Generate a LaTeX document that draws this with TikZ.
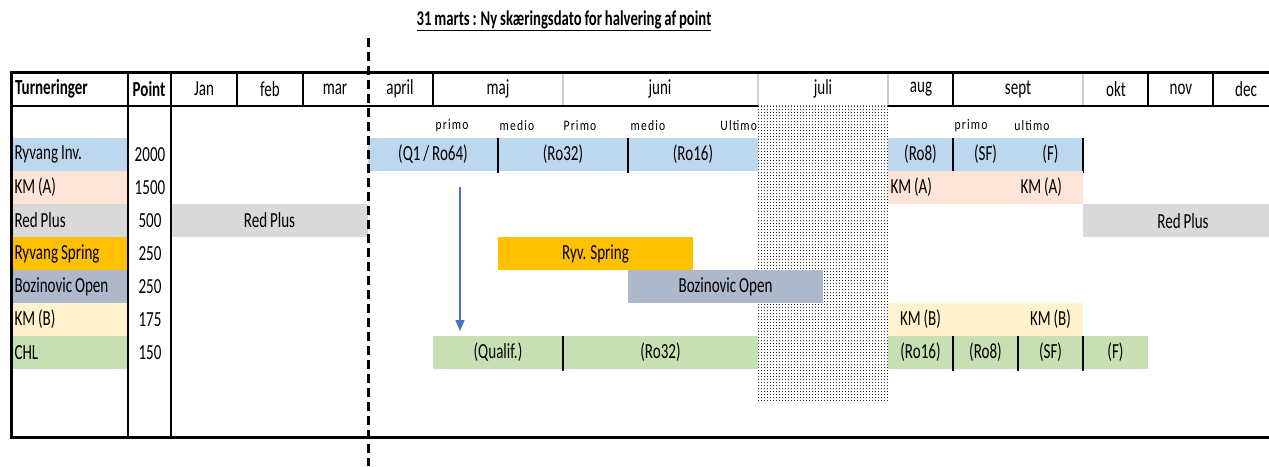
\documentclass[tikz,border=0pt]{standalone}
\usepackage{fontspec}
\setmainfont{Carlito}[FakeStretch=0.7,WordSpace=0.85]
\newfontfamily\subfont{Carlito}[FakeStretch=0.8,LetterSpace=8]
\usetikzlibrary{patterns.meta,arrows.meta}
\definecolor{cblue}{HTML}{BDD7EE}
\definecolor{cpeach}{HTML}{FCE4D6}
\definecolor{cgray}{HTML}{D9D9D9}
\definecolor{corange}{HTML}{FFC000}
\definecolor{cboz}{HTML}{ADB9CA}
\definecolor{cyel}{HTML}{FFF2CC}
\definecolor{cgreen}{HTML}{C6E0B4}
\definecolor{carrow}{HTML}{4472C4}
\definecolor{csep}{HTML}{D0D0D0}
\tikzdeclarepattern{name=julydots,type=uncolored,
  bounding box={(0pt,0pt) and (3.4pt,3.4pt)},tile size={(3.4pt,3.4pt)},
  code={\fill (1.7pt,1.7pt) circle (0.58pt);}}
% name, style, x1, y1, x2, y2, text
\newcommand\cellc[7]{\node[cellbox,#2,minimum width={(#5-#3)*1pt},minimum height={(#6-#4)*1pt}] (#1) at ({(#3+#5)/2},{(#4+#6)/2}) {#7};}
\newcommand\celll[7]{\node[cellbox,#2,minimum width={(#5-#3)*1pt},minimum height={(#6-#4)*1pt}] (#1) at ({(#3+#5)/2},{(#4+#6)/2}) {\makebox[\dimexpr #5pt-#3pt-5pt\relax][l]{#7}};}
\begin{document}
\begin{tikzpicture}[x=1pt,y=-1pt,
  cellbox/.style={inner xsep=2.5pt,inner ysep=0pt,outer sep=0pt,draw=none,font=\fontsize{21.5}{22}\selectfont},
  txt/.style={inner sep=0pt,outer sep=0pt,font=\fontsize{21.5}{22}\selectfont},
  sub/.style={inner sep=0pt,outer sep=0pt,font=\subfont\fontsize{14.5}{16}\selectfont},
  thick border/.style={line width=3pt},
  hsep/.style={line width=2pt},
  gsep/.style={line width=1.5pt,draw=csep},
  divider/.style={line width=2pt},
  cutline/.style={line width=3pt,dash pattern=on 9pt off 5pt},
  arrowline/.style={draw=carrow,line width=1.2pt,-{Triangle[width=9pt,length=11pt]}}]
\useasboundingbox (0,0) rectangle (1269,466);
\fill[white] (0,0) rectangle (1269,466);
% title
\node[inner sep=0pt,font=\fontsize{21}{22}\selectfont\bfseries] (title) at (564,21) {\underline{31 marts : Ny skæringsdato for halvering af point}};
% dotted july region
\fill[pattern=julydots,pattern color=black] (758,105) rectangle (888,400);
% left label cells
\celll{lRy}{fill=cblue}{12}{138}{128}{171}{Ryvang Inv.}
\celll{lKA}{fill=cpeach}{12}{171}{128}{204}{KM (A)}
\celll{lRP}{fill=cgray}{12}{204}{128}{237}{Red Plus}
\celll{lRS}{fill=corange}{12}{237}{128}{270}{Ryvang Spring}
\celll{lBO}{fill=cboz}{12}{270}{128}{303}{Bozinovic Open}
\celll{lKB}{fill=cyel}{12}{303}{128}{336}{KM (B)}
\celll{lCH}{fill=cgreen}{12}{336}{128}{369}{CHL}
% points
\node[txt] (p1) at (150,155) {2000};
\node[txt] (p2) at (150,188) {1500};
\node[txt] (p3) at (150,221) {500};
\node[txt] (p4) at (150,254) {250};
\node[txt] (p5) at (150,287) {250};
\node[txt] (p6) at (150,320) {175};
\node[txt] (p7) at (150,353) {150};
% header
\node[txt,font=\fontsize{21.5}{22}\selectfont\bfseries,anchor=west] (hT) at (15,89) {Turneringer};
\node[txt,font=\fontsize{21.5}{22}\selectfont\bfseries] (hP) at (149,89) {Point};
\node[txt] (m1) at (204,89) {Jan};
\node[txt] (m2) at (270,89) {feb};
\node[txt] (m3) at (335,89) {mar};
\node[txt] (m4) at (400,89) {april};
\node[txt] (m5) at (498,89) {maj};
\node[txt] (m6) at (660,89) {juni};
\node[txt] (m7) at (823,89) {juli};
\node[txt] (m8) at (921,89) {aug};
\node[txt] (m9) at (1018,89) {sept};
\node[txt] (m10) at (1116,89) {okt};
\node[txt] (m11) at (1181,89) {nov};
\node[txt] (m12) at (1246,89) {dec};
% sub labels
\node[sub] (s1) at (452,126) {primo};
\node[sub] (s2) at (517,126) {medio};
\node[sub] (s3) at (580,126) {Primo};
\node[sub] (s4) at (648,126) {medio};
\node[sub,anchor=east] (s5) at (757,126) {Ultimo};
\node[sub] (s6) at (971,126) {primo};
\node[sub] (s7) at (1032,126) {ultimo};
% Ryvang Inv bars
\cellc{r1}{fill=cblue}{368}{138}{498}{171}{(Q1 / Ro64)}
\cellc{r2}{fill=cblue}{498}{138}{628}{171}{(Ro32)}
\cellc{r3}{fill=cblue}{628}{138}{758}{171}{(Ro16)}
\cellc{r4}{fill=cblue}{888}{138}{953}{171}{(Ro8)}
\cellc{r5}{fill=cblue}{953}{138}{1018}{171}{(SF)}
\cellc{r6}{fill=cblue}{1018}{138}{1083}{171}{(F)}
\draw[divider] (r1.north east) -- ([yshift=-1.5pt]r1.south east);
\draw[divider] (r2.north east) -- ([yshift=-1.5pt]r2.south east);
\draw[divider] (r4.north east) -- ([yshift=-1.5pt]r4.south east);
\draw[divider] (r6.north east) -- ([yshift=-1.5pt]r6.south east);
% KM (A)
\fill[cpeach] (888,171) rectangle (1083,204);
\celll{ka1}{}{888}{171}{953}{204}{KM (A)}
\celll{ka2}{}{1018}{171}{1083}{204}{KM (A)}
% Red Plus
\cellc{rp1}{fill=cgray}{171}{204}{368}{237}{Red Plus}
\fill[cgray] (1083,204) rectangle (1269,237);
\node[txt] (rp2) at (1183,221) {Red Plus};
% Ryv Spring / Bozinovic
\cellc{rs}{fill=corange}{498}{237}{693}{270}{Ryv. Spring}
\cellc{bo}{fill=cboz}{628}{270}{823}{303}{Bozinovic Open}
% KM (B)
\fill[cyel] (888,303) rectangle (1083,336);
\cellc{kb1}{}{888}{303}{953}{336}{KM (B)}
\cellc{kb2}{}{1018}{303}{1083}{336}{KM (B)}
% CHL
\cellc{c1}{fill=cgreen}{433}{336}{563}{369}{(Qualif.)}
\cellc{c2}{fill=cgreen}{563}{336}{758}{369}{(Ro32)}
\cellc{c3}{fill=cgreen}{888}{336}{953}{369}{(Ro16)}
\cellc{c4}{fill=cgreen}{953}{336}{1018}{369}{(Ro8)}
\cellc{c5}{fill=cgreen}{1018}{336}{1083}{369}{(SF)}
\cellc{c6}{fill=cgreen}{1083}{336}{1148}{369}{(F)}
\draw[divider] (c1.north east) -- ([yshift=-1.5pt]c1.south east);
\draw[divider] (c3.north east) -- ([yshift=-1.5pt]c3.south east);
\draw[divider] (c4.north east) -- ([yshift=-1.5pt]c4.south east);
\draw[divider] (c5.north east) -- ([yshift=-1.5pt]c5.south east);
% grid lines
\draw[thick border] (11,72) -- (1269,72);
\draw[line width=2.5pt] (11,106) -- (758,106);
\draw[line width=2.5pt] (888,106) -- (1269,106);
\draw[line width=1pt,draw=gray,dotted] (758,105) -- (888,105);
\draw[thick border] (11,437) -- (1269,437);
\draw[thick border] (11,70.5) -- (11,438.5);
\draw[line width=2.5pt] (128,72) -- (128,437);
\draw[line width=2.5pt] (171,72) -- (171,437);
\foreach \xx in {237,303,433,953,1148,1213} \draw[hsep] (\xx,72) -- (\xx,106);
\foreach \xx in {563,758,888,1083} \draw[gsep] (\xx,73.5) -- (\xx,104.5);
% cut-off date line
\coordinate (cutTop) at (368,38);
\coordinate (cutBot) at (368,466);
\draw[cutline] (cutTop) -- (cutBot);
% arrow
\coordinate (arrS) at (460,187);
\coordinate (arrE) at (460,331);
\draw[arrowline] (arrS) -- (arrE);
\end{tikzpicture}
\end{document}
